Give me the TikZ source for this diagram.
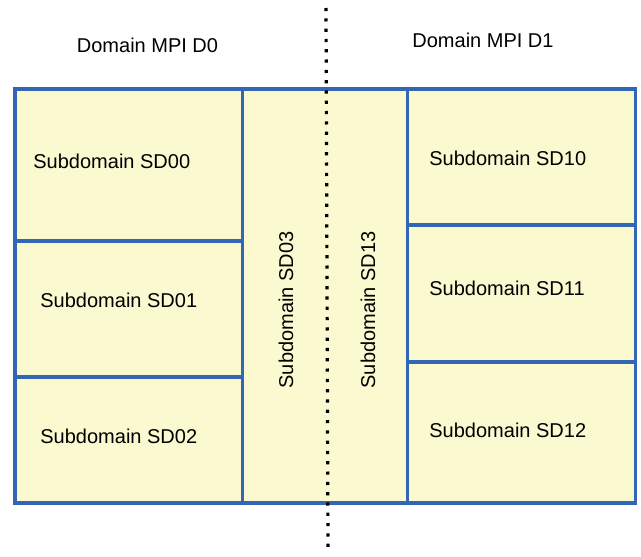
\documentclass[tikz,border=0pt]{standalone}
\usepackage{fontspec}
\setmainfont{Liberation Sans}
\definecolor{sdblue}{HTML}{3467B3}
\definecolor{sdfill}{HTML}{FAF9D0}
\tikzset{
  subdom/.style={draw=sdblue, fill=sdfill, line width=1.6pt},
  sdlabel/.style={inner sep=0pt, anchor=west, font=\fontsize{10}{12}\selectfont},
  sdvert/.style={inner sep=0pt, rotate=90, font=\fontsize{10}{12}\selectfont},
  domlabel/.style={inner sep=0pt, font=\fontsize{10}{12}\selectfont},
  mpicut/.style={line width=1.6pt, dash pattern=on 1.6pt off 3.55pt}
}
\begin{document}
\begin{tikzpicture}[x=0.5pt,y=-0.5pt]
\useasboundingbox (0,0) rectangle (641,556);
% domain D0
\draw[subdom] (15,89) rectangle (242.5,241);
\draw[subdom] (15,241) rectangle (242.5,377);
\draw[subdom] (15,377) rectangle (242.5,503);
% shared strip
\draw[subdom] (242.5,89) rectangle (407.5,503);
% domain D1
\foreach \ytop/\ybot in {89/225,225/362,362/503}
{
    \draw[subdom] (407.5,\ytop) rectangle (635.5,\ybot);
}
\node[sdlabel] (sd00) at (33,161.5) {Subdomain SD00};
\node[sdlabel] (sd01) at (40,300.5) {Subdomain SD01};
\node[sdlabel] (sd02) at (40,436.5) {Subdomain SD02};
\node[sdvert] (sd03) at (286,310) {Subdomain SD03};
\node[sdvert] (sd13) at (368,310) {Subdomain SD13};
\node[sdlabel] (sd10) at (429,158) {Subdomain SD10};
\node[sdlabel] (sd11) at (429,288) {Subdomain SD11};
\node[sdlabel] (sd12) at (429,430) {Subdomain SD12};
\node[domlabel] (d0) at (147.5,45) {Domain MPI D0};
\node[domlabel] (d1) at (483,40) {Domain MPI D1};
% MPI cut
\coordinate (cuttop) at (326,8);
\coordinate (cutbot) at (328,552);
\draw[mpicut] (cuttop) -- (cutbot);
\end{tikzpicture}
\end{document}
